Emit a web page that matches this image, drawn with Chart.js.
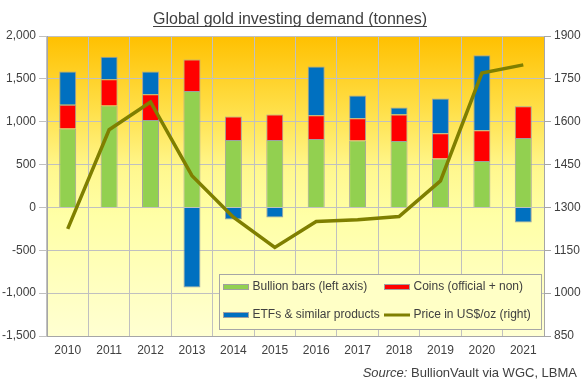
<!DOCTYPE html>
<html>
<head>
<meta charset="utf-8">
<script src="https://cdn.jsdelivr.net/npm/chart.js@4"></script>
<style>
html,body{margin:0;padding:0;background:#fff;}
#wrap{width:584px;height:383px;position:relative;}
</style>
</head>
<body>
<div id="wrap"><canvas id="c" width="584" height="383"></canvas></div>
<script>
const years = ['2010','2011','2012','2013','2014','2015','2016','2017','2018','2019','2020','2021'];
const bullionBars = [922, 1190, 1019, 1358, 786, 786, 797, 782, 774, 572, 541, 809];
const coins = [276, 304, 300, 369, 276, 299, 277, 257, 311, 292, 358, 370];
const etfs = [389, 264, 268, -934, -140, -117, 571, 268, 82, 408, 875, -175];
const priceUsd = [1225, 1572, 1669, 1411, 1266, 1160, 1251, 1257, 1268, 1393, 1770, 1799];
const leftTickLabels = [-1500, -1000, -500, 0, 500, 1000, 1500, 2000];
const rightTickLabels = [850, 1000, 1150, 1300, 1450, 1600, 1750, 1900];

const TXT = '#404040';
const FONT = '"Liberation Sans", Arial, sans-serif';

const bgPlugin = {
  id: 'bg',
  beforeDraw(chart) {
    const {ctx, chartArea: a} = chart;
    const g = ctx.createLinearGradient(0, a.top, 0, a.bottom);
    g.addColorStop(0, '#FFC000');
    g.addColorStop(0.25, '#FFE04A');
    g.addColorStop(0.45, '#FFF890');
    g.addColorStop(0.6, '#FFFFA6');
    g.addColorStop(1, '#FFFFD2');
    ctx.save();
    ctx.fillStyle = g;
    ctx.fillRect(a.left, a.top, a.right - a.left, a.bottom - a.top);
    ctx.restore();
  },
  afterDraw(chart) {
    const ctx = chart.ctx;
    ctx.save();
    // title
    ctx.font = '16px ' + FONT;
    ctx.fillStyle = TXT;
    ctx.textAlign = 'center';
    ctx.textBaseline = 'alphabetic';
    const title = 'Global gold investing demand (tonnes)';
    const tx = 290, ty = 24;
    ctx.fillText(title, tx, ty);
    const tw = ctx.measureText(title).width;
    ctx.strokeStyle = TXT;
    ctx.lineWidth = 1;
    ctx.beginPath();
    ctx.moveTo(tx - tw / 2, ty + 2.5);
    ctx.lineTo(tx + tw / 2, ty + 2.5);
    ctx.stroke();

    // legend
    const lx = 219.5, ly = 274.5, lw = 322, lh = 55;
    ctx.fillStyle = '#FFFFC6';
    ctx.fillRect(lx, ly, lw, lh);
    ctx.strokeStyle = '#A6A6A6';
    ctx.strokeRect(lx, ly, lw, lh);
    const ds = chart.data.datasets;
    const items = [
      {d: ds[0], x: 223, y: 287},
      {d: ds[1], x: 384, y: 287},
      {d: ds[2], x: 223, y: 315},
      {d: ds[3], x: 384, y: 315}
    ];
    ctx.font = '12px ' + FONT;
    ctx.textAlign = 'left';
    ctx.textBaseline = 'middle';
    items.forEach(it => {
      if (it.d.type === 'line') {
        ctx.strokeStyle = it.d.borderColor;
        ctx.lineWidth = 3;
        ctx.beginPath();
        ctx.moveTo(it.x, it.y);
        ctx.lineTo(it.x + 26, it.y);
        ctx.stroke();
      } else {
        ctx.fillStyle = it.d.backgroundColor;
        ctx.fillRect(it.x, it.y - 3, 26, 6);
        ctx.strokeStyle = '#A0A0A0';
        ctx.lineWidth = 1;
        ctx.strokeRect(it.x + 0.5, it.y - 2.5, 25, 5);
      }
      ctx.fillStyle = TXT;
      ctx.fillText(it.d.label, it.x + 29.5, it.y);
    });

    // source
    ctx.font = '13px ' + FONT;
    ctx.textAlign = 'right';
    ctx.textBaseline = 'alphabetic';
    const rest = ' BullionVault via WGC, LBMA';
    const rx = 577, ry = 377;
    ctx.fillText(rest, rx, ry);
    const rw = ctx.measureText(rest).width;
    ctx.font = 'italic 13px ' + FONT;
    ctx.fillText('Source:', rx - rw, ry);
    ctx.restore();
  }
};

new Chart(document.getElementById('c'), {
  data: {
    labels: years,
    datasets: [
      {type: 'bar', label: 'Bullion bars (left axis)', data: bullionBars, backgroundColor: '#92D050', borderColor: '#A0A0A0', borderWidth: 1, yAxisID: 'y', stack: 's', order: 1, barPercentage: 0.82, categoryPercentage: 0.5},
      {type: 'bar', label: 'Coins (official + non)', data: coins, backgroundColor: '#FF0000', borderColor: '#A0A0A0', borderWidth: 1, yAxisID: 'y', stack: 's', order: 1, barPercentage: 0.82, categoryPercentage: 0.5},
      {type: 'bar', label: 'ETFs & similar products', data: etfs, backgroundColor: '#0070C0', borderColor: '#A0A0A0', borderWidth: 1, yAxisID: 'y', stack: 's', order: 1, barPercentage: 0.82, categoryPercentage: 0.5},
      {type: 'line', label: 'Price in US$/oz (right)', data: priceUsd, borderColor: '#7F7F00', backgroundColor: '#7F7F00', borderWidth: 3.5, pointRadius: 0, tension: 0, yAxisID: 'y2', order: 0}
    ]
  },
  options: {
    responsive: false,
    animation: false,
    layout: {padding: {top: 36, bottom: 23, left: 0, right: 0}},
    plugins: {legend: {display: false}, tooltip: {enabled: false}, title: {display: false}},
    scales: {
      x: {
        stacked: true,
        offset: true,
        grid: {color: '#C0C0C0', offset: true, drawTicks: false},
        border: {color: '#A6A6A6'},
        ticks: {color: TXT, font: {family: FONT, size: 12}, padding: 7},
        afterFit(s) { s.height = 24; }
      },
      y: {
        position: 'left',
        stacked: true,
        min: -1500, max: 2000,
        afterBuildTicks(s) { s.ticks = leftTickLabels.map(v => ({value: v})); },
        grid: {color: '#C0C0C0', tickLength: 8},
        border: {color: '#A6A6A6'},
        ticks: {color: TXT, font: {family: FONT, size: 12}, padding: 3, callback: v => v.toLocaleString('en-US')},
        afterFit(s) { s.width = 47; }
      },
      y2: {
        position: 'right',
        min: 850, max: 1900,
        afterBuildTicks(s) { s.ticks = rightTickLabels.map(v => ({value: v})); },
        grid: {drawOnChartArea: false, color: '#A6A6A6', tickLength: 7},
        border: {color: '#A6A6A6'},
        ticks: {color: TXT, font: {family: FONT, size: 12}, padding: 3, callback: v => String(v)},
        afterFit(s) { s.width = 40; }
      }
    }
  },
  plugins: [bgPlugin]
});
</script>
</body>
</html>
